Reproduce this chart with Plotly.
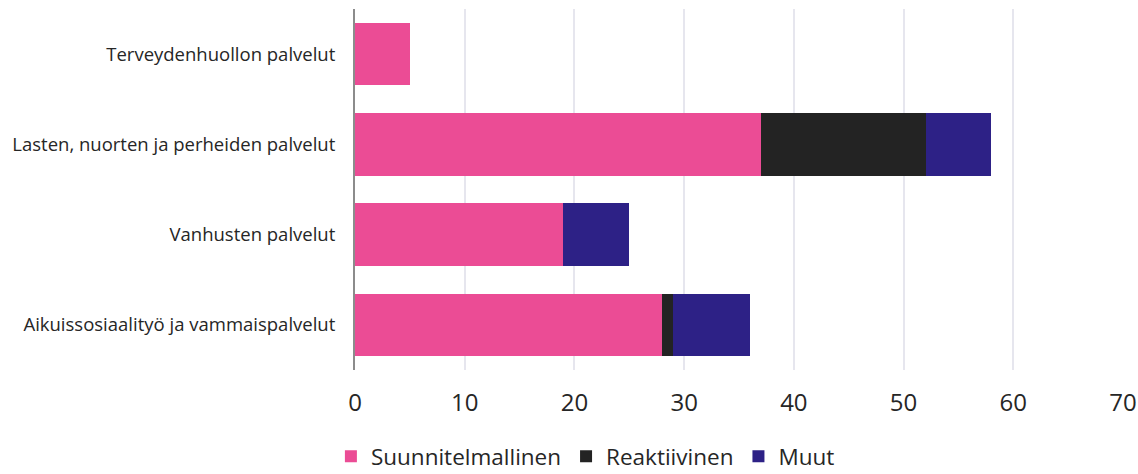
import plotly.graph_objects as go

categories = ["Terveydenhuollon palvelut", "Lasten, nuorten ja perheiden palvelut",
              "Vanhusten palvelut", "Aikuissosiaalityö ja vammaispalvelut"]
suunnitelmallinen = [5, 37, 19, 28]
reaktiivinen = [0, 15, 0, 1]
muut = [0, 6, 6, 7]
x_ticks = [0, 10, 20, 30, 40, 50, 60, 70]

fig = go.Figure()
for name, vals, color in [("Suunnitelmallinen", suunnitelmallinen, "#EB4C95"),
                          ("Reaktiivinen", reaktiivinen, "#232323"),
                          ("Muut", muut, "#2D2186")]:
    fig.add_trace(go.Bar(y=categories, x=vals, name=name, orientation="h",
                         marker=dict(color=color, line=dict(width=0))))

fig.update_layout(
    barmode="stack", bargap=0.31,
    width=1138, height=474,
    margin=dict(l=355, r=15, t=9, b=104, autoexpand=False),
    paper_bgcolor="white", plot_bgcolor="white",
    font=dict(family="Open Sans", color="#262626"),
    legend=dict(orientation="h", xref="paper", yref="paper",
                x=0.3, xanchor="center", y=-0.24, yanchor="middle",
                font=dict(size=22.5), traceorder="normal", itemwidth=30),
    xaxis=dict(range=[0, 70], tickvals=x_ticks, showgrid=True,
               gridcolor="#E6E6EE", gridwidth=2, zeroline=False,
               tickfont=dict(size=24, color="#262626"), ticklabelstandoff=16,
               ticklabeloverflow="allow", showline=False, automargin=False),
    yaxis=dict(categoryorder="array", categoryarray=categories[::-1],
               showline=True, linecolor="#8C8C8C", linewidth=2,
               tickfont=dict(size=18.5, color="#262626"), ticklabelstandoff=14,
               showgrid=False, automargin=False),
)
fig.write_html("out.html")
